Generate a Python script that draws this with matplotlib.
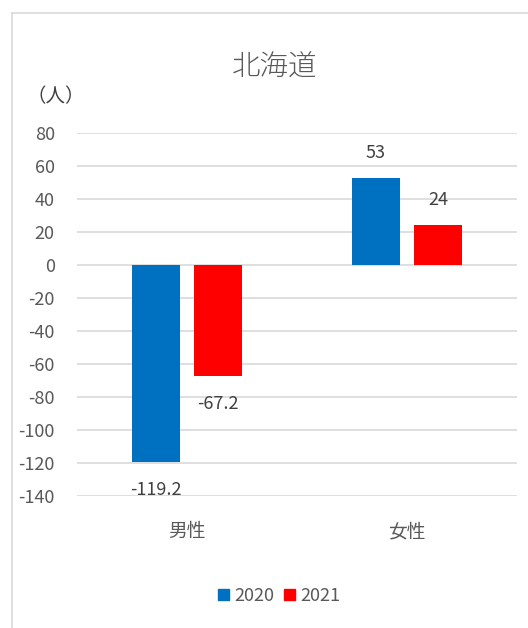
import matplotlib.pyplot as plt
from matplotlib.lines import Line2D
from matplotlib.patches import Patch

plt.rcParams['font.family'] = ['Noto Sans CJK JP', 'DejaVu Sans']

categories = ['男性', '女性']
series_names = ['2020', '2021']
values_2020 = [-119.2, 53]
values_2021 = [-67.2, 24]
label_2020 = ['-119.2', '53']
label_2021 = ['-67.2', '24']
yticks = [80, 60, 40, 20, 0, -20, -40, -60, -80, -100, -120, -140]

blue = '#0070C0'
red = '#FF0000'
grid_c = '#D9D9D9'
text_c = '#595959'
label_c = '#404040'

fig = plt.figure(figsize=(5.28, 6.28), dpi=100)
ax = fig.add_axes([77 / 528, (628 - 496) / 628, 440 / 528, (496 - 133) / 628])

# outer chart frame (top and left edges visible)
fig.add_artist(Line2D([12 / 528, 1.0], [1 - 13 / 628, 1 - 13 / 628],
                      transform=fig.transFigure, color='#D9D9D9', lw=1.2))
fig.add_artist(Line2D([12 / 528, 12 / 528], [0, 1 - 13 / 628],
                      transform=fig.transFigure, color='#D9D9D9', lw=1.2))

x = range(len(categories))
width = 0.218
off = 0.142
ax.set_axisbelow(True)
for i in x:
    ax.bar(i - off, values_2020[i], width, color=blue, zorder=3)
    ax.bar(i + off, values_2021[i], width, color=red, zorder=3)

def put_label(xpos, val, txt):
    dy = 25 if val > 0 else -28
    ax.annotate(txt, (xpos, val), xytext=(0, dy), textcoords='offset pixels',
                ha='center', va='center', fontsize=13, color=label_c)

for i in x:
    put_label(i - off, values_2020[i], label_2020[i])
    put_label(i + off, values_2021[i], label_2021[i])

ax.set_xlim(-0.5, 1.5)
ax.set_ylim(-140, 80)
ax.set_yticks(yticks)
ax.set_yticklabels([str(t) for t in yticks], fontsize=13, color=text_c)
ax.yaxis.grid(True, color=grid_c, lw=1.2)
ax.tick_params(axis='y', length=0, pad=16)
ax.set_xticks(list(x))
ax.set_xticklabels(categories, fontsize=13.5, color=text_c)
ax.tick_params(axis='x', length=0, pad=18)
for s in ax.spines.values():
    s.set_visible(False)

fig.text(275 / 528, 1 - 67 / 628, '北海道', ha='center', va='center',
         fontsize=20.5, color=text_c, fontweight='light')
fig.text(27 / 528, 1 - 97 / 628, '（人）', ha='left', va='center',
         fontsize=14, color=label_c)

handles = [Patch(color=blue, label=series_names[0]),
           Patch(color=red, label=series_names[1])]
fig.legend(handles=handles, loc='center', bbox_to_anchor=(279 / 528, 1 - 596 / 628),
           ncol=2, frameon=False, fontsize=13, handlelength=0.6, handleheight=0.6,
           handletextpad=0.3, columnspacing=0.55, labelcolor=text_c)

fig.savefig('out.png', dpi=100, facecolor='white')
